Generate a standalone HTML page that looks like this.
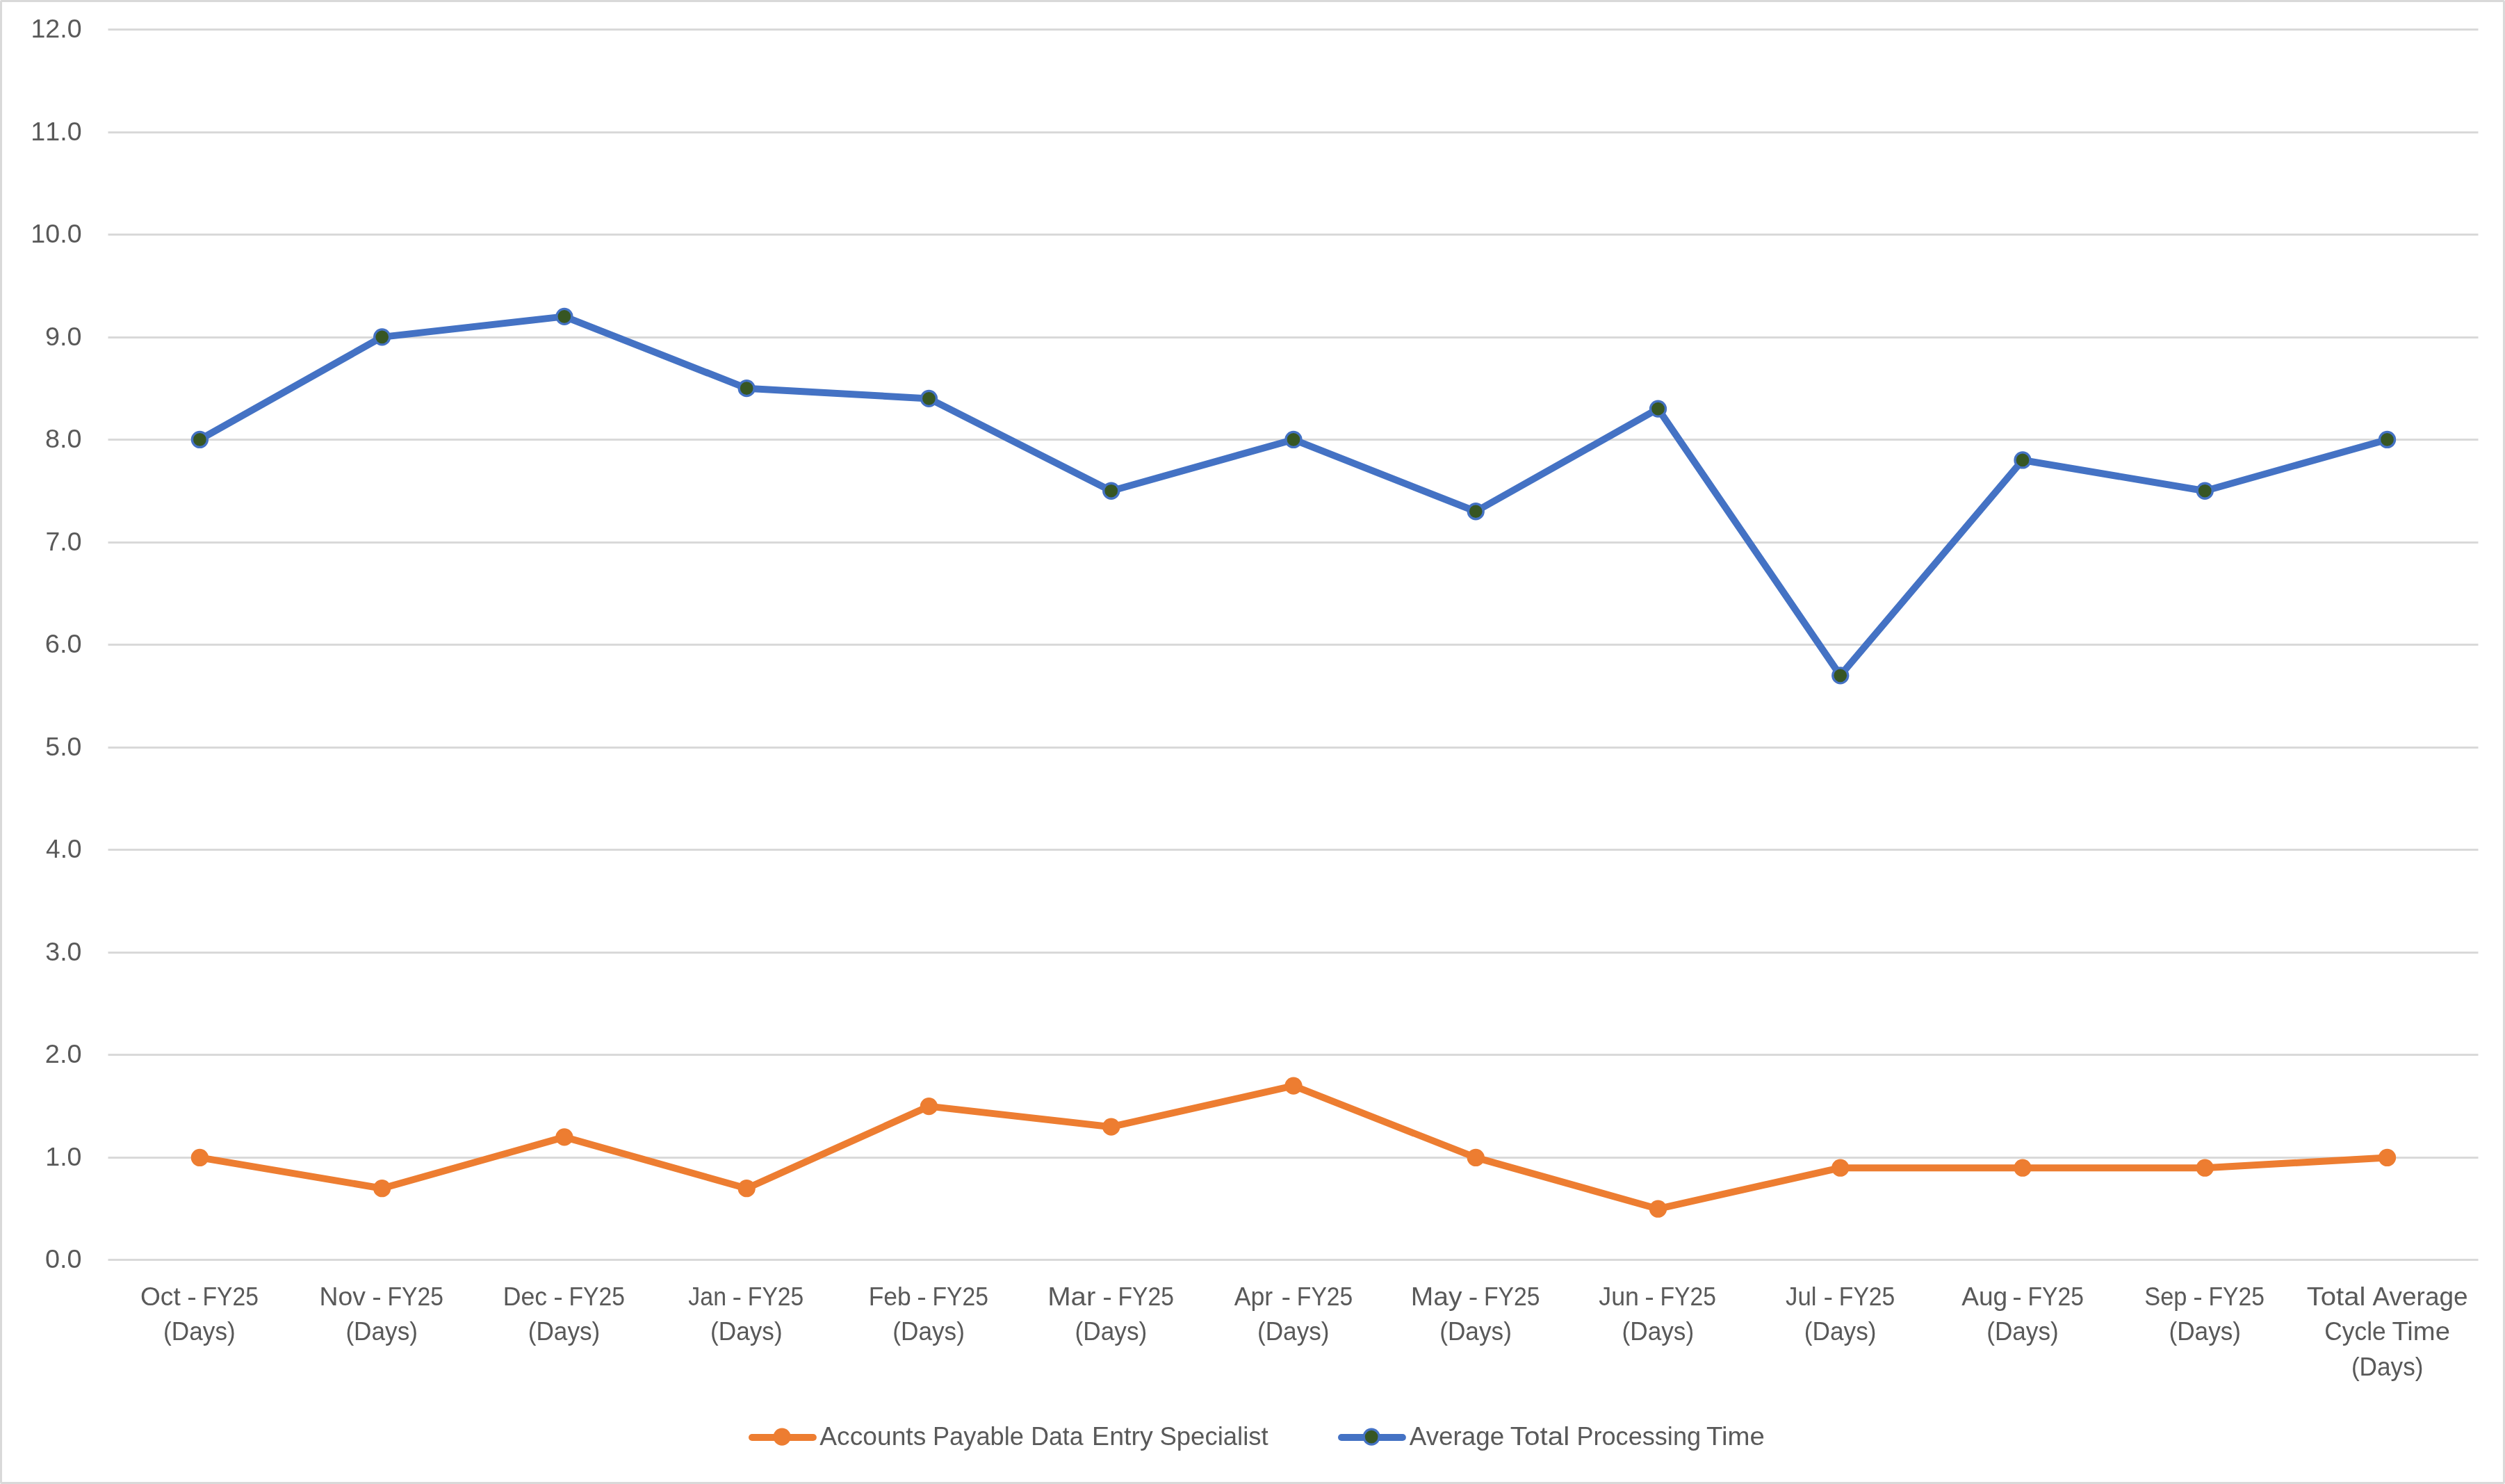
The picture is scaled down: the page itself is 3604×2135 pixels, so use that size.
<!DOCTYPE html>
<html lang="en"><head><meta charset="utf-8"><title>Average Processing Time Chart</title>
<style>
html,body{margin:0;padding:0;background:#fff;}
body{width:3604px;height:2135px;overflow:hidden;}
svg{display:block;will-change:transform;}
text{font-family:"Liberation Sans",sans-serif;font-size:37.4px;fill:#595959;stroke:#595959;stroke-width:0px;white-space:pre;}
</style></head><body>
<svg width="3604" height="2135" viewBox="0 0 3604 2135">
<rect x="0" y="0" width="3604" height="2135" fill="#ffffff"/>
<rect x="1.5" y="1.5" width="3601" height="2132" rx="0.8" ry="0.8" fill="none" stroke="#D9D9D9" stroke-width="3"/>

<g stroke="#D9D9D9" stroke-width="3">
<line x1="155.5" y1="1812.5" x2="3565.5" y2="1812.5"/>
<line x1="155.5" y1="1665.5" x2="3565.5" y2="1665.5"/>
<line x1="155.5" y1="1517.5" x2="3565.5" y2="1517.5"/>
<line x1="155.5" y1="1370.5" x2="3565.5" y2="1370.5"/>
<line x1="155.5" y1="1222.5" x2="3565.5" y2="1222.5"/>
<line x1="155.5" y1="1075.5" x2="3565.5" y2="1075.5"/>
<line x1="155.5" y1="927.5" x2="3565.5" y2="927.5"/>
<line x1="155.5" y1="780.5" x2="3565.5" y2="780.5"/>
<line x1="155.5" y1="632.5" x2="3565.5" y2="632.5"/>
<line x1="155.5" y1="485.5" x2="3565.5" y2="485.5"/>
<line x1="155.5" y1="337.5" x2="3565.5" y2="337.5"/>
<line x1="155.5" y1="190.5" x2="3565.5" y2="190.5"/>
<line x1="155.5" y1="42.5" x2="3565.5" y2="42.5"/>
</g>
<g style="font-kerning:none;font-size:37.9px">
<text y="54.30"><tspan x="44.42" textLength="73.16" lengthAdjust="spacingAndGlyphs">12.0</tspan></text>
<text y="201.80"><tspan x="44.32" textLength="73.27" lengthAdjust="spacingAndGlyphs">11.0</tspan></text>
<text y="349.30"><tspan x="44.32" textLength="73.27" lengthAdjust="spacingAndGlyphs">10.0</tspan></text>
<text y="496.80"><tspan x="65.06" textLength="52.47" lengthAdjust="spacingAndGlyphs">9.0</tspan></text>
<text y="644.30"><tspan x="65.06" textLength="52.47" lengthAdjust="spacingAndGlyphs">8.0</tspan></text>
<text y="791.80"><tspan x="65.53" textLength="51.99" lengthAdjust="spacingAndGlyphs">7.0</tspan></text>
<text y="939.30"><tspan x="64.80" textLength="52.74" lengthAdjust="spacingAndGlyphs">6.0</tspan></text>
<text y="1086.80"><tspan x="65.31" textLength="52.21" lengthAdjust="spacingAndGlyphs">5.0</tspan></text>
<text y="1234.30"><tspan x="66.07" textLength="51.44" lengthAdjust="spacingAndGlyphs">4.0</tspan></text>
<text y="1381.80"><tspan x="65.31" textLength="52.21" lengthAdjust="spacingAndGlyphs">3.0</tspan></text>
<text y="1529.30"><tspan x="64.80" textLength="52.74" lengthAdjust="spacingAndGlyphs">2.0</tspan></text>
<text y="1676.80"><tspan x="65.22" textLength="52.31" lengthAdjust="spacingAndGlyphs">1.0</tspan></text>
<text y="1824.30"><tspan x="65.00" textLength="52.53" lengthAdjust="spacingAndGlyphs">0.0</tspan></text>
</g>
<g>
<text y="1878.10"><tspan x="201.96" textLength="57.76" lengthAdjust="spacingAndGlyphs">Oct</tspan> <tspan x="269.29" textLength="13.56" lengthAdjust="spacingAndGlyphs">-</tspan> <tspan x="291.50" textLength="80.57" lengthAdjust="spacingAndGlyphs">FY25</tspan></text>
<text y="1928.40"><tspan x="235.09" textLength="103.62" lengthAdjust="spacingAndGlyphs">(Days)</tspan></text>
<text y="1878.10"><tspan x="459.50" textLength="66.45" lengthAdjust="spacingAndGlyphs">Nov</tspan> <tspan x="535.19" textLength="13.56" lengthAdjust="spacingAndGlyphs">-</tspan> <tspan x="557.40" textLength="80.57" lengthAdjust="spacingAndGlyphs">FY25</tspan></text>
<text y="1928.40"><tspan x="497.39" textLength="103.62" lengthAdjust="spacingAndGlyphs">(Days)</tspan></text>
<text y="1878.10"><tspan x="723.74" textLength="63.41" lengthAdjust="spacingAndGlyphs">Dec</tspan> <tspan x="796.29" textLength="13.56" lengthAdjust="spacingAndGlyphs">-</tspan> <tspan x="818.50" textLength="80.57" lengthAdjust="spacingAndGlyphs">FY25</tspan></text>
<text y="1928.40"><tspan x="759.70" textLength="103.62" lengthAdjust="spacingAndGlyphs">(Days)</tspan></text>
<text y="1878.10"><tspan x="990.32" textLength="54.69" lengthAdjust="spacingAndGlyphs">Jan</tspan> <tspan x="1053.59" textLength="13.56" lengthAdjust="spacingAndGlyphs">-</tspan> <tspan x="1075.80" textLength="80.57" lengthAdjust="spacingAndGlyphs">FY25</tspan></text>
<text y="1928.40"><tspan x="1022.01" textLength="103.62" lengthAdjust="spacingAndGlyphs">(Days)</tspan></text>
<text y="1878.10"><tspan x="1249.65" textLength="61.15" lengthAdjust="spacingAndGlyphs">Feb</tspan> <tspan x="1319.19" textLength="13.56" lengthAdjust="spacingAndGlyphs">-</tspan> <tspan x="1341.40" textLength="80.57" lengthAdjust="spacingAndGlyphs">FY25</tspan></text>
<text y="1928.40"><tspan x="1284.32" textLength="103.62" lengthAdjust="spacingAndGlyphs">(Days)</tspan></text>
<text y="1878.10"><tspan x="1507.18" textLength="69.12" lengthAdjust="spacingAndGlyphs">Mar</tspan> <tspan x="1586.29" textLength="13.56" lengthAdjust="spacingAndGlyphs">-</tspan> <tspan x="1608.50" textLength="80.57" lengthAdjust="spacingAndGlyphs">FY25</tspan></text>
<text y="1928.40"><tspan x="1546.62" textLength="103.62" lengthAdjust="spacingAndGlyphs">(Days)</tspan></text>
<text y="1878.10"><tspan x="1775.66" textLength="55.60" lengthAdjust="spacingAndGlyphs">Apr</tspan> <tspan x="1843.59" textLength="13.56" lengthAdjust="spacingAndGlyphs">-</tspan> <tspan x="1865.80" textLength="80.57" lengthAdjust="spacingAndGlyphs">FY25</tspan></text>
<text y="1928.40"><tspan x="1808.93" textLength="103.62" lengthAdjust="spacingAndGlyphs">(Days)</tspan></text>
<text y="1878.10"><tspan x="2029.87" textLength="73.68" lengthAdjust="spacingAndGlyphs">May</tspan> <tspan x="2112.79" textLength="13.56" lengthAdjust="spacingAndGlyphs">-</tspan> <tspan x="2135.00" textLength="80.57" lengthAdjust="spacingAndGlyphs">FY25</tspan></text>
<text y="1928.40"><tspan x="2071.24" textLength="103.62" lengthAdjust="spacingAndGlyphs">(Days)</tspan></text>
<text y="1878.10"><tspan x="2300.28" textLength="57.76" lengthAdjust="spacingAndGlyphs">Jun</tspan> <tspan x="2366.29" textLength="13.56" lengthAdjust="spacingAndGlyphs">-</tspan> <tspan x="2388.50" textLength="80.57" lengthAdjust="spacingAndGlyphs">FY25</tspan></text>
<text y="1928.40"><tspan x="2333.55" textLength="103.62" lengthAdjust="spacingAndGlyphs">(Days)</tspan></text>
<text y="1878.10"><tspan x="2569.10" textLength="44.48" lengthAdjust="spacingAndGlyphs">Jul</tspan> <tspan x="2623.59" textLength="13.56" lengthAdjust="spacingAndGlyphs">-</tspan> <tspan x="2645.80" textLength="80.57" lengthAdjust="spacingAndGlyphs">FY25</tspan></text>
<text y="1928.40"><tspan x="2595.86" textLength="103.62" lengthAdjust="spacingAndGlyphs">(Days)</tspan></text>
<text y="1878.10"><tspan x="2822.15" textLength="66.01" lengthAdjust="spacingAndGlyphs">Aug</tspan> <tspan x="2895.19" textLength="13.56" lengthAdjust="spacingAndGlyphs">-</tspan> <tspan x="2917.40" textLength="80.57" lengthAdjust="spacingAndGlyphs">FY25</tspan></text>
<text y="1928.40"><tspan x="2858.16" textLength="103.62" lengthAdjust="spacingAndGlyphs">(Days)</tspan></text>
<text y="1878.10"><tspan x="3085.19" textLength="61.22" lengthAdjust="spacingAndGlyphs">Sep</tspan> <tspan x="3155.19" textLength="13.56" lengthAdjust="spacingAndGlyphs">-</tspan> <tspan x="3177.40" textLength="80.57" lengthAdjust="spacingAndGlyphs">FY25</tspan></text>
<text y="1928.40"><tspan x="3120.47" textLength="103.62" lengthAdjust="spacingAndGlyphs">(Days)</tspan></text>
<text y="1878.10"><tspan x="3318.70" textLength="84.77" lengthAdjust="spacingAndGlyphs">Total</tspan> <tspan x="3413.55" textLength="137.02" lengthAdjust="spacingAndGlyphs">Average</tspan></text>
<text y="1928.40"><tspan x="3344.31" textLength="88.34" lengthAdjust="spacingAndGlyphs">Cycle</tspan> <tspan x="3441.43" textLength="83.51" lengthAdjust="spacingAndGlyphs">Time</tspan></text>
<text y="1978.70"><tspan x="3382.88" textLength="103.62" lengthAdjust="spacingAndGlyphs">(Days)</tspan></text>
</g>
<polyline points="287.40,1665.43 549.66,1709.70 811.92,1635.92 1074.18,1709.70 1336.44,1591.64 1598.70,1621.16 1860.96,1562.13 2123.22,1665.43 2385.48,1739.21 2647.74,1680.19 2910.00,1680.19 3172.26,1680.19 3434.52,1665.43" fill="none" stroke="#ED7D31" stroke-width="10" stroke-linecap="round" stroke-linejoin="round"/>
<circle cx="287.40" cy="1665.43" r="11.0" fill="#ED7D31" stroke="#ED7D31" stroke-width="3.3"/><circle cx="549.66" cy="1709.70" r="11.0" fill="#ED7D31" stroke="#ED7D31" stroke-width="3.3"/><circle cx="811.92" cy="1635.92" r="11.0" fill="#ED7D31" stroke="#ED7D31" stroke-width="3.3"/><circle cx="1074.18" cy="1709.70" r="11.0" fill="#ED7D31" stroke="#ED7D31" stroke-width="3.3"/><circle cx="1336.44" cy="1591.64" r="11.0" fill="#ED7D31" stroke="#ED7D31" stroke-width="3.3"/><circle cx="1598.70" cy="1621.16" r="11.0" fill="#ED7D31" stroke="#ED7D31" stroke-width="3.3"/><circle cx="1860.96" cy="1562.13" r="11.0" fill="#ED7D31" stroke="#ED7D31" stroke-width="3.3"/><circle cx="2123.22" cy="1665.43" r="11.0" fill="#ED7D31" stroke="#ED7D31" stroke-width="3.3"/><circle cx="2385.48" cy="1739.21" r="11.0" fill="#ED7D31" stroke="#ED7D31" stroke-width="3.3"/><circle cx="2647.74" cy="1680.19" r="11.0" fill="#ED7D31" stroke="#ED7D31" stroke-width="3.3"/><circle cx="2910.00" cy="1680.19" r="11.0" fill="#ED7D31" stroke="#ED7D31" stroke-width="3.3"/><circle cx="3172.26" cy="1680.19" r="11.0" fill="#ED7D31" stroke="#ED7D31" stroke-width="3.3"/><circle cx="3434.52" cy="1665.43" r="11.0" fill="#ED7D31" stroke="#ED7D31" stroke-width="3.3"/>
<polyline points="287.40,632.44 549.66,484.87 811.92,455.36 1074.18,558.65 1336.44,573.41 1598.70,706.23 1860.96,632.44 2123.22,735.74 2385.48,588.17 2647.74,971.85 2910.00,661.95 3172.26,706.23 3434.52,632.44" fill="none" stroke="#4472C4" stroke-width="10" stroke-linecap="round" stroke-linejoin="round"/>
<circle cx="287.40" cy="632.44" r="11.0" fill="#375623" stroke="#4472C4" stroke-width="3.3"/><circle cx="549.66" cy="484.87" r="11.0" fill="#375623" stroke="#4472C4" stroke-width="3.3"/><circle cx="811.92" cy="455.36" r="11.0" fill="#375623" stroke="#4472C4" stroke-width="3.3"/><circle cx="1074.18" cy="558.65" r="11.0" fill="#375623" stroke="#4472C4" stroke-width="3.3"/><circle cx="1336.44" cy="573.41" r="11.0" fill="#375623" stroke="#4472C4" stroke-width="3.3"/><circle cx="1598.70" cy="706.23" r="11.0" fill="#375623" stroke="#4472C4" stroke-width="3.3"/><circle cx="1860.96" cy="632.44" r="11.0" fill="#375623" stroke="#4472C4" stroke-width="3.3"/><circle cx="2123.22" cy="735.74" r="11.0" fill="#375623" stroke="#4472C4" stroke-width="3.3"/><circle cx="2385.48" cy="588.17" r="11.0" fill="#375623" stroke="#4472C4" stroke-width="3.3"/><circle cx="2647.74" cy="971.85" r="11.0" fill="#375623" stroke="#4472C4" stroke-width="3.3"/><circle cx="2910.00" cy="661.95" r="11.0" fill="#375623" stroke="#4472C4" stroke-width="3.3"/><circle cx="3172.26" cy="706.23" r="11.0" fill="#375623" stroke="#4472C4" stroke-width="3.3"/><circle cx="3434.52" cy="632.44" r="11.0" fill="#375623" stroke="#4472C4" stroke-width="3.3"/>
<line x1="1082.0" y1="2068.0" x2="1169.9" y2="2068.0" stroke="#ED7D31" stroke-width="10" stroke-linecap="round"/>
<circle cx="1125.1" cy="2067.1" r="11.0" fill="#ED7D31" stroke="#ED7D31" stroke-width="3.3"/>
<text y="2079.10"><tspan x="1179.25" textLength="153.05" lengthAdjust="spacingAndGlyphs">Accounts</tspan> <tspan x="1341.89" textLength="131.09" lengthAdjust="spacingAndGlyphs">Payable</tspan> <tspan x="1483.13" textLength="75.45" lengthAdjust="spacingAndGlyphs">Data</tspan> <tspan x="1571.08" textLength="87.75" lengthAdjust="spacingAndGlyphs">Entry</tspan> <tspan x="1668.39" textLength="156.38" lengthAdjust="spacingAndGlyphs">Specialist</tspan></text>
<line x1="1930.0" y1="2068.0" x2="2017.9" y2="2068.0" stroke="#4472C4" stroke-width="10" stroke-linecap="round"/>
<circle cx="1973.15" cy="2067.1" r="11.0" fill="#375623" stroke="#4472C4" stroke-width="3.3"/>
<text y="2079.10"><tspan x="2027.75" textLength="136.41" lengthAdjust="spacingAndGlyphs">Average</tspan> <tspan x="2172.79" textLength="85.40" lengthAdjust="spacingAndGlyphs">Total</tspan> <tspan x="2268.40" textLength="178.68" lengthAdjust="spacingAndGlyphs">Processing</tspan> <tspan x="2454.93" textLength="83.82" lengthAdjust="spacingAndGlyphs">Time</tspan></text>
</svg></body></html>
